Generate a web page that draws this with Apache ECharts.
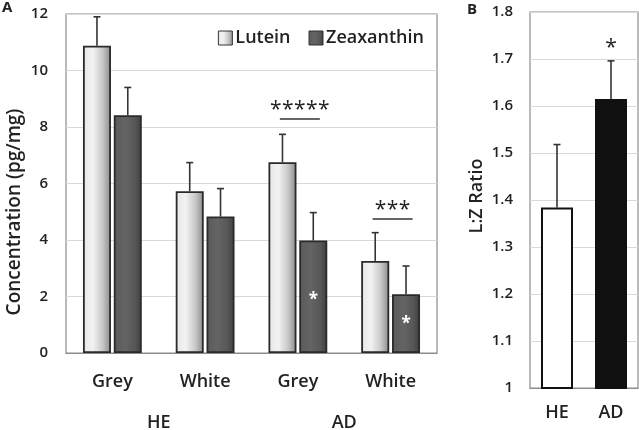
<!DOCTYPE html>
<html><head><meta charset="utf-8">
<script src="https://cdn.jsdelivr.net/npm/echarts@6/dist/echarts.min.js"></script>
<style>html,body{margin:0;padding:0;background:#fff}#c{width:639px;height:430px}</style>
</head><body><div id="c"></div>
<script>
// Panel A data
const regions = ['Grey', 'White', 'Grey', 'White'];
const groups = ['HE', 'AD'];
const lutein = [10.88, 5.73, 6.75, 3.26];
const luteinErr = [1.02, 1.01, 0.99, 1.0];
const zeaxanthin = [8.42, 4.83, 3.98, 2.08];
const zeaxanthinErr = [0.98, 0.99, 0.99, 1.0];
const yTicksA = [0, 2, 4, 6, 8, 10, 12];
// significance brackets on panel A: [category index, y of line, number of stars]
const sigA = [[2, 8.28, 5], [3, 4.74, 3]];
// white asterisks inside zeaxanthin bars: [category index, y]
const innerStars = [[2, 2.02], [3, 1.17]];
// Panel B data
const groupsB = ['HE', 'AD'];
const ratio = [1.384, 1.615];
const ratioErr = [0.134, 0.081];
const sigB = [[1, 1.728, 1]];

const FONT = '"Open Sans"';
const W = 600;
const TXT = '#222';
const chart = echarts.init(document.getElementById('c'), null, {renderer: 'canvas'});
const BW = 28, GAP = 0.1;
const half = (BW * 2 + BW * GAP) / 2;
const offL = -half + BW / 2, offZ = half - BW / 2;

function errSeries(name, vals, errs, off, xi, yi) {
  return {
    type: 'custom', name: name, xAxisIndex: xi, yAxisIndex: yi, z: 1, silent: true,
    data: vals.map((v, i) => [i, v, errs[i]]),
    renderItem: function (params, api) {
      const b = api.coord([api.value(0), api.value(1)]);
      const t = api.coord([api.value(0), api.value(1) + api.value(2)]);
      const x = b[0] + off;
      return {type: 'group', children: [
        {type: 'line', shape: {x1: x, y1: b[1], x2: x, y2: t[1]}, style: {stroke: '#333', lineWidth: 1.6}},
        {type: 'line', shape: {x1: x - 3.5, y1: t[1], x2: x + 3.5, y2: t[1]}, style: {stroke: '#333', lineWidth: 1.6}}
      ]};
    }
  };
}

function stars(n, cx, cy, size, color, weight) {
  const out = [];
  const step = 12;
  for (let k = 0; k < n; k++) {
    out.push({type: 'text', style: {text: '*', x: cx + (k - (n - 1) / 2) * step, y: cy, align: 'center', verticalAlign: 'middle',
      font: (weight || 'normal') + ' ' + size + 'px ' + FONT, fill: color}});
  }
  return out;
}

const gradL = new echarts.graphic.LinearGradient(0, 0, 1, 0, [
  {offset: 0, color: '#e6e6e6'}, {offset: 0.35, color: '#f2f2f2'}, {offset: 0.7, color: '#c8c8c8'}, {offset: 1, color: '#8a8a8a'}]);
const gradZ = new echarts.graphic.LinearGradient(0, 0, 1, 0, [
  {offset: 0, color: '#5a5a5a'}, {offset: 0.4, color: '#646464'}, {offset: 0.75, color: '#575757'}, {offset: 1, color: '#3e3e3e'}]);

const option = {
  animation: false,
  textStyle: {fontFamily: FONT},
  grid: [
    {left: 66, top: 14, width: 371, height: 339, show: true, borderColor: '#8c8c8c', borderWidth: 1.2, backgroundColor: 'transparent',
      containLabel: false, outerBoundsMode: 'none'},
    {left: 530, top: 12, width: 108, height: 376, show: true, borderColor: '#8c8c8c', borderWidth: 1.2, backgroundColor: 'transparent',
      containLabel: false, outerBoundsMode: 'none'}
  ],
  legend: {
    data: [{name: 'Lutein', itemStyle: {color: gradL}}, {name: 'Zeaxanthin', itemStyle: {color: gradZ}}],
    right: 210, top: 24, itemWidth: 14, itemHeight: 14, itemGap: 18,
    icon: 'rect',
    itemStyle: {borderColor: '#333', borderWidth: 1},
    textStyle: {fontFamily: FONT, fontWeight: W, fontSize: 18, color: TXT, padding: [0, 0, 0, -2]}
  },
  xAxis: [
    {type: 'category', gridIndex: 0, data: regions, axisTick: {show: false},
      axisLine: {lineStyle: {color: '#8c8c8c', width: 1.2}},
      axisLabel: {fontFamily: FONT, fontWeight: W, fontSize: 18, color: TXT, margin: 20}},
    {type: 'category', gridIndex: 0, data: groups, position: 'bottom', offset: 42,
      axisLine: {show: false}, axisTick: {show: false},
      axisLabel: {fontFamily: FONT, fontWeight: W, fontSize: 18, color: TXT, margin: 19}},
    {type: 'category', gridIndex: 1, data: groupsB, axisTick: {show: false},
      axisLine: {lineStyle: {color: '#8c8c8c', width: 1.2}},
      axisLabel: {fontFamily: FONT, fontWeight: W, fontSize: 18, color: TXT, margin: 16}}
  ],
  yAxis: [
    {type: 'value', gridIndex: 0, min: yTicksA[0], max: yTicksA[yTicksA.length - 1], interval: 2,
      axisLine: {show: false}, axisTick: {show: false},
      splitLine: {lineStyle: {color: '#d9d9d9', width: 1.2}},
      axisLabel: {fontFamily: FONT, fontWeight: W, fontSize: 15, color: TXT, margin: 18}},
    {type: 'value', gridIndex: 1, min: 1, max: 1.8, interval: 0.1,
      axisLine: {show: false}, axisTick: {show: false},
      splitLine: {lineStyle: {color: '#d9d9d9', width: 1.2}},
      axisLabel: {fontFamily: FONT, fontWeight: W, fontSize: 15, color: TXT, margin: 17,
        formatter: v => String(+v.toFixed(1))}}
  ],
  graphic: [
    {type: 'text', left: 2, top: 0, style: {text: 'A', font: 'bold 15px ' + FONT, fill: TXT}},
    {type: 'text', left: 467, top: 2, style: {text: 'B', font: 'bold 15px ' + FONT, fill: TXT}},
    {type: 'text', x: 15, y: 212, rotation: Math.PI / 2,
      style: {text: 'Concentration (pg/mg)', font: W + ' 19px ' + FONT, fill: TXT, align: 'center', verticalAlign: 'middle'}},
    {type: 'text', x: 477, y: 196, rotation: Math.PI / 2,
      style: {text: 'L:Z Ratio', font: W + ' 18px ' + FONT, fill: TXT, align: 'center', verticalAlign: 'middle'}}
  ],
  series: [
    {type: 'bar', name: 'Lutein', xAxisIndex: 0, yAxisIndex: 0, data: lutein, barWidth: BW, barGap: '10%', z: 2,
      itemStyle: {color: gradL, borderColor: '#2a2a2a', borderWidth: 1.8}},
    {type: 'bar', name: 'Zeaxanthin', xAxisIndex: 0, yAxisIndex: 0, data: zeaxanthin, barWidth: BW, barGap: '10%', z: 2,
      itemStyle: {color: gradZ, borderColor: '#2a2a2a', borderWidth: 1.8}},
    errSeries('errL', lutein, luteinErr, offL, 0, 0),
    errSeries('errZ', zeaxanthin, zeaxanthinErr, offZ, 0, 0),
    {type: 'custom', name: 'sigA', xAxisIndex: 0, yAxisIndex: 0, z: 5, silent: true,
      data: sigA,
      renderItem: function (params, api) {
        const p = api.coord([api.value(0), api.value(1)]);
        const cx = p[0] + 2;
        const children = [
          {type: 'line', shape: {x1: cx - 20, y1: p[1], x2: cx + 20, y2: p[1]}, style: {stroke: '#333', lineWidth: 1.5}}
        ].concat(stars(api.value(2), cx, p[1] - 9, 21, TXT));
        return {type: 'group', children: children};
      }},
    {type: 'custom', name: 'innerStars', xAxisIndex: 0, yAxisIndex: 0, z: 5, silent: true,
      data: innerStars,
      renderItem: function (params, api) {
        const p = api.coord([api.value(0), api.value(1)]);
        return {type: 'group', children: stars(1, p[0] + offZ, p[1] + 4, 17, '#fff', 'bold')};
      }},
    {type: 'bar', name: 'Ratio', xAxisIndex: 2, yAxisIndex: 1, barWidth: 32, z: 2,
      data: ratio.map((v, i) => ({value: v, itemStyle: {color: i === 0 ? '#fff' : '#111'}})),
      itemStyle: {borderColor: '#111', borderWidth: 2}},
    errSeries('errB', ratio, ratioErr, 0, 2, 1),
    {type: 'custom', name: 'sigB', xAxisIndex: 2, yAxisIndex: 1, z: 5, silent: true,
      data: sigB,
      renderItem: function (params, api) {
        const p = api.coord([api.value(0), api.value(1)]);
        return {type: 'group', children: stars(api.value(2), p[0], p[1] + 2, 21, TXT)};
      }}
  ]
};
chart.setOption(option);
</script>
</body></html>
